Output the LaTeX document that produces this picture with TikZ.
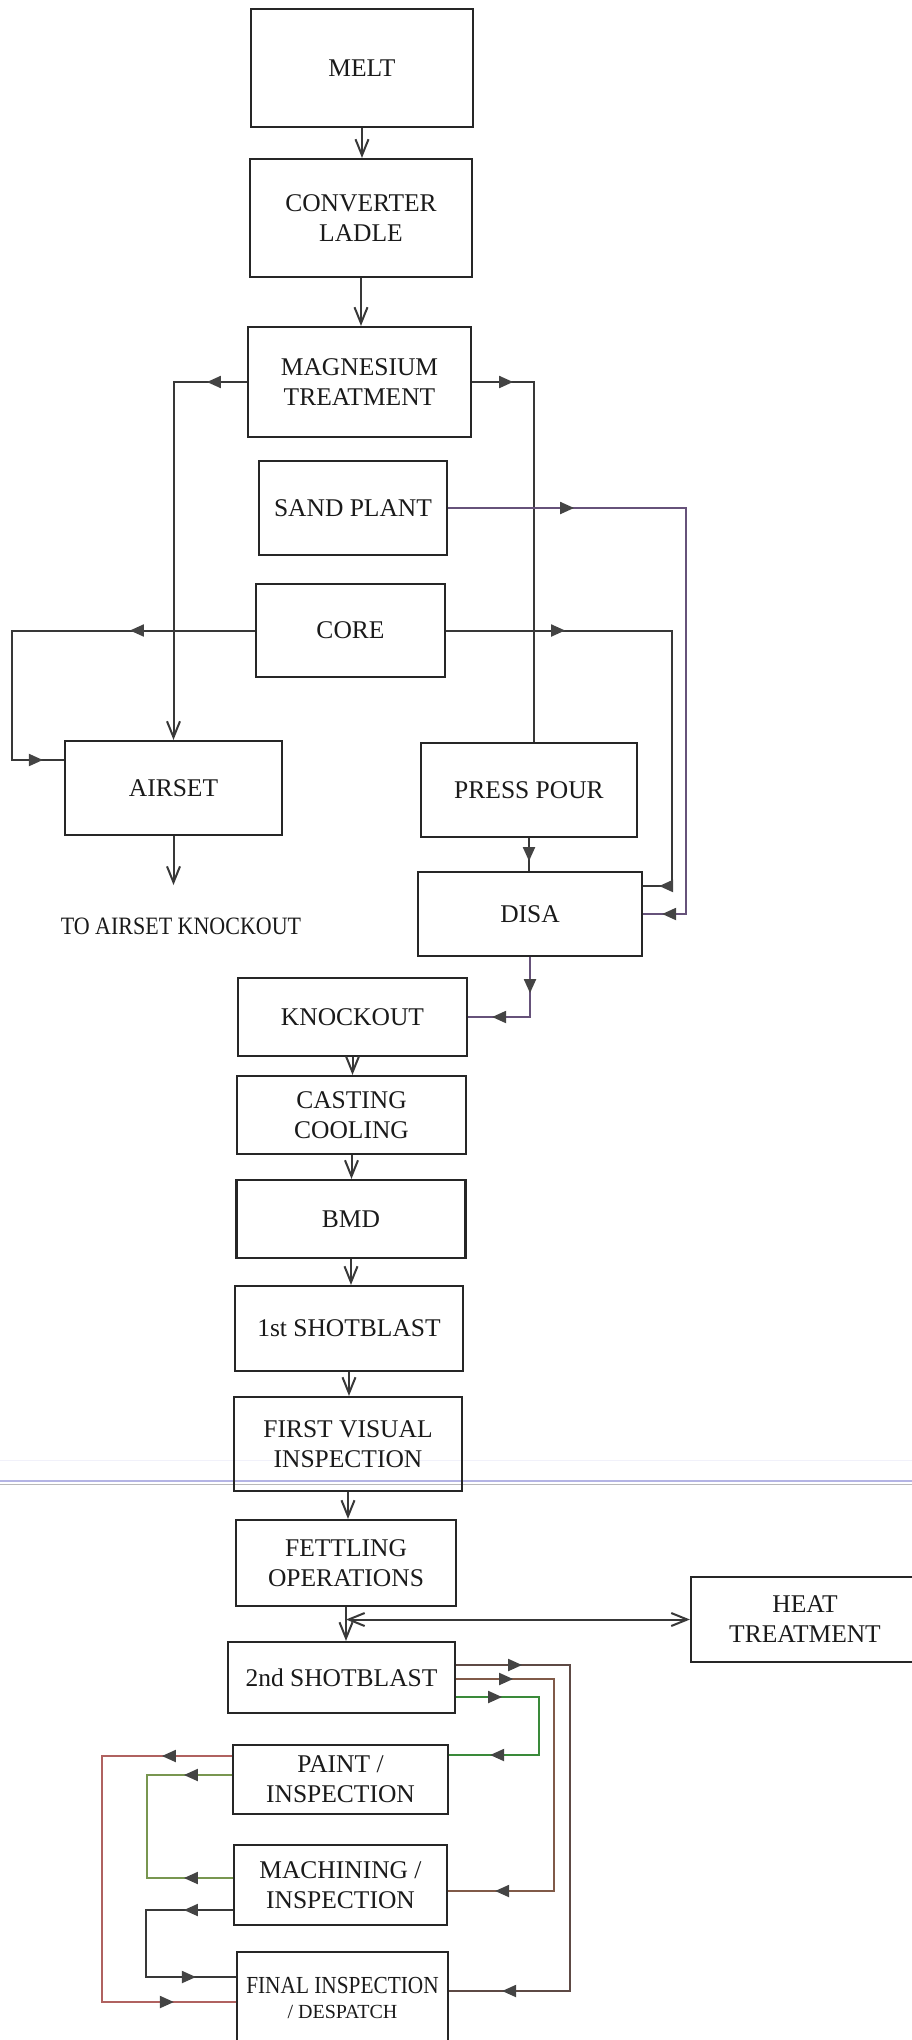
\documentclass[tikz,border=0pt]{standalone}
\usepackage{fontspec}
\setmainfont{Liberation Serif}
\usetikzlibrary{arrows.meta,decorations.markings}
\definecolor{boxline}{HTML}{262626}
\definecolor{txt}{HTML}{1A1A1A}
\definecolor{linegray}{HTML}{383838}
\definecolor{tipgray}{HTML}{444444}
\definecolor{linebrown}{HTML}{5E4A45}
\definecolor{linerust}{HTML}{805A48}
\definecolor{linegreen}{HTML}{3A8A3A}
\definecolor{linered}{HTML}{B06260}
\definecolor{lineolive}{HTML}{789650}
\definecolor{linepurple}{HTML}{66527A}
\definecolor{scanlav}{HTML}{B4B4E4}
\tikzset{
  box/.style 2 args={draw=boxline,line width=2.2pt,rectangle,inner sep=0pt,align=center,
    text=txt,font=\fontsize{25.5}{30}\selectfont,minimum width=#1,minimum height=#2},
  link/.style={draw=linegray,line width=2pt},
  vtip/.style={-{Straight Barb[length=16pt,width=13pt]}},
  vtips/.style={{Straight Barb[length=16pt,width=13pt]}-{Straight Barb[length=16pt,width=13pt]}},
  tipat/.style={postaction={decorate,decoration={markings,
    mark=at position #1 with {\arrow{Triangle[length=14pt,width=12pt,color=tipgray]}}}}},
  backtipat/.style={postaction={decorate,decoration={markings,
    mark=at position #1 with {\arrowreversed{Triangle[length=14pt,width=12pt,color=tipgray]}}}}},
}
\begin{document}
\begin{tikzpicture}[x=1pt,y=-1pt]
\useasboundingbox (0,0) rectangle (912,2040);
\draw[scanlav!18,line width=1pt] (0,1460) -- (912,1460);
\draw[scanlav,line width=2.5pt] (0,1481) -- (912,1481);
\draw[gray!55,line width=1pt] (0,1484.5) -- (912,1484.5);
\node[box={222pt}{118pt}] (melt) at (362,68) {MELT};
\node[box={222pt}{118pt}] (ladle) at (361,218) {CONVERTER\\LADLE};
\node[box={223pt}{110pt}] (mgt) at (359.5,382) {MAGNESIUM\\TREATMENT};
\node[box={188pt}{94pt}] (sand) at (353,508) {SAND PLANT};
\node[box={189pt}{93pt}] (core) at (350.5,630.5) {CORE};
\node[box={217pt}{94pt}] (airset) at (173.5,788) {AIRSET};
\node[box={216pt}{94pt}] (press) at (529,790) {PRESS POUR};
\node[box={224pt}{84pt}] (disa) at (530,914) {DISA};
\node[text=txt,font=\fontsize{25}{30}\selectfont] (toko) at (181,926.5) {\scalebox{0.88}[1]{TO AIRSET KNOCKOUT}};
\node[box={229pt}{78pt}] (ko) at (352.5,1017) {KNOCKOUT};
\node[box={229pt}{78pt}] (cool) at (351.5,1115) {CASTING\\COOLING};
\node[box={229pt}{78pt}] (bmd) at (351,1219) {BMD};
\node[box={228pt}{85pt}] (sb1) at (349,1328.5) {1st SHOTBLAST};
\node[box={228pt}{94pt}] (fvi) at (348,1444) {FIRST VISUAL\\INSPECTION};
\node[box={220pt}{86pt}] (fettle) at (346,1563) {FETTLING\\OPERATIONS};
\node[box={228pt}{85pt}] (heat) at (805,1619.5) {HEAT\\TREATMENT};
\node[box={227pt}{71pt}] (sb2) at (341.5,1677.5) {2nd SHOTBLAST};
\node[box={215pt}{69pt}] (paint) at (340.5,1779.5) {PAINT /\\INSPECTION};
\node[box={213pt}{80pt}] (mach) at (340.5,1885) {MACHINING /\\INSPECTION};
\node[box={211pt}{92pt},font=\fontsize{24.5}{25}\selectfont] (final) at (342.5,1998)
  {\scalebox{0.87}[1]{FINAL INSPECTION}\\{\fontsize{20}{25}\selectfont / DESPATCH}};
\coordinate (tokend) at (173.5,885);
\coordinate (htj) at (fettle.south |- heat.west);
\draw[link,vtip] (melt.south) -- (melt.south |- ladle.north);
\draw[link,vtip] (ladle.south) -- (ladle.south |- mgt.north);
\draw[link,vtip,tipat=40pt] (mgt.west) -| (airset.north);
\draw[link,tipat=41pt] (mgt.east) -| ([xshift=5pt]press.north);
\draw[link,draw=linepurple,tipat=126pt,tipat=-19pt] (sand.east) -- ++(238,0) |- (disa.east);
\draw[link,tipat=119pt,tipat=-16pt] (core.east) -- ++(226,0) |- ([yshift=28pt]disa.east);
\draw[link,tipat=125pt,tipat=-21pt] (core.west) -- ++(-243,0) |- ([yshift=28pt]airset.west);
\draw[link,vtip] (airset.south) -- (tokend);
\draw[link,tipat=23pt] (press.south) -- (press.south |- disa.north);
\draw[link,draw=linepurple,tipat=36pt,tipat=-24pt] (disa.south) |- (ko.east);
\draw[link,vtip] (ko.south) -- (ko.south |- cool.north);
\draw[link,vtip] (cool.south) -- (cool.south |- bmd.north);
\draw[link,vtip] (bmd.south) -- (bmd.south |- sb1.north);
\draw[link,vtip] (sb1.south) -- (sb1.south |- fvi.north);
\draw[link,vtip] (fvi.south) -- (fvi.south |- fettle.north);
\draw[link,vtip] (fettle.south) -- (fettle.south |- sb2.north);
\draw[link,vtips] (htj) -- (heat.west);
\draw[link,draw=linebrown,tipat=66pt,tipat=-53pt] ([yshift=12.5pt]sb2.east) -- ++(114,0) |- ([yshift=7pt]final.east);
\draw[link,draw=linerust,tipat=57pt,tipat=-47pt] ([yshift=-1.5pt]sb2.east) -- ++(98,0) |- ([yshift=-6pt]mach.east);
\draw[link,draw=linegreen,tipat=46pt,tipat=-41pt] ([yshift=-19.5pt]sb2.east) -- ++(83,0) |- ([yshift=24.5pt]paint.east);
\draw[link,draw=linered,tipat=70pt,tipat=-62pt] ([yshift=23.5pt]paint.west) -- ++(-129.5,0) |- ([yshift=-4pt]final.west);
\draw[link,draw=lineolive,tipat=48pt,backtipat=-49pt] ([yshift=4.5pt]paint.west) -- ++(-85,0) |- ([yshift=7pt]mach.west);
\draw[link,tipat=49pt,tipat=-40pt] ([yshift=-25pt]mach.west) -- ++(-87,0) |- ([yshift=21pt]final.west);
\end{tikzpicture}
\end{document}
